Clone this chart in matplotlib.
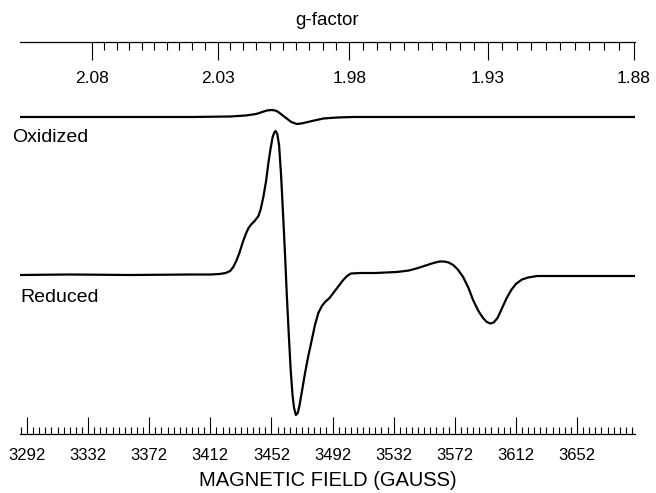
import numpy as np
import matplotlib.pyplot as plt

plt.rcParams['font.family'] = ['Liberation Sans', 'DejaVu Sans']

# EPR spectra, field in gauss, intensity in arbitrary units (baseline = 0)
Field_Red = [3287, 3320, 3360, 3400, 3412, 3418, 3422, 3425, 3427, 3429, 3431, 3433.5, 3435.5,
             3437, 3439, 3441, 3443.5, 3445, 3446.7, 3448.5, 3450, 3451.5, 3452.8, 3454, 3454.8,
             3455.8, 3457, 3458.3, 3459.8, 3461, 3462, 3463.3, 3464.6, 3465.8, 3466.8, 3468,
             3469.2, 3470.3, 3472, 3474, 3476, 3478.4, 3480.5, 3482.7, 3485, 3487.1, 3490,
             3492.5, 3496, 3499, 3501.5, 3504, 3510, 3520, 3534, 3542, 3548, 3553, 3558, 3562,
             3565, 3568, 3571, 3574, 3577.5, 3581, 3584, 3587.5, 3590.5, 3593, 3595.3, 3597.5,
             3600, 3603, 3606, 3609, 3612, 3616, 3620, 3626, 3640, 3660, 3690]
Int_Red = [0, 0.5, 0, 0.5, 0.5, 1, 2, 4, 8, 14, 22, 34, 42,
           47, 51, 54, 59, 66, 78, 94, 112, 127, 138, 143, 144,
           141, 130, 100, 55, 17, -18, -58, -95, -120, -133, -140,
           -138, -131, -116, -98, -82, -65, -50, -38, -31, -27, -23,
           -18, -11, -5, -1, 1.5, 2, 2, 3, 4.5, 7, 9.5, 12, 13.5,
           13.5, 12.5, 10, 5.5, -2, -13, -25, -36, -43, -47, -48.5, -47.5,
           -43, -33, -23, -15, -9, -4.5, -2.5, -1, -1, -1, -1]

Field_Ox = [3287, 3340, 3400, 3425, 3435, 3442, 3446, 3449, 3452, 3454.5, 3456.5, 3459, 3462,
            3465, 3468.5, 3471.5, 3475, 3480, 3486, 3495, 3505, 3560, 3620, 3690]
Int_Ox = [0, 0, 0, 0.5, 1.5, 3, 5, 6.5, 7, 6.5, 5, 2, -1.5,
          -5, -7, -6.5, -5.3, -3.5, -1.5, -0.5, 0, 0, 0, 0]

Ox_Offset = 158

Field_Major = [3292, 3332, 3372, 3412, 3452, 3492, 3532, 3572, 3612, 3652]
G_Major = [2.08, 2.03, 1.98, 1.93, 1.88]
G_Labels = ['2.08', '2.03', '1.98', '1.93', '1.88']
GB = 6936.0  # g * B (gauss)

fig = plt.figure(figsize=(6.56, 4.93), dpi=100)
ax = fig.add_axes([20 / 656, 1 - 434 / 493, 615 / 656, 392 / 493])

ax.plot(Field_Red, Int_Red, color='black', linewidth=1.6)
ax.plot(Field_Ox, np.array(Int_Ox) + Ox_Offset, color='black', linewidth=1.6)

ax.set_xlim(3287.4, 3690)
ax.set_ylim(-159, 233)

for s in ['left', 'right', 'top']:
    ax.spines[s].set_visible(False)
ax.spines['bottom'].set_linewidth(0.9)
ax.set_yticks([])
ax.set_xticks(Field_Major)
ax.set_xticks(np.arange(3288, 3690, 4), minor=True)
ax.tick_params(axis='x', which='major', direction='in', length=12, width=0.8, pad=10, labelsize=12)
ax.tick_params(axis='x', which='minor', direction='in', length=5, width=0.8)
ax.set_xlabel('MAGNETIC FIELD (GAUSS)', fontsize=14.5, labelpad=6)

sec = ax.secondary_xaxis(1.0, functions=(lambda b: GB / np.asarray(b, dtype=float),
                                         lambda g: GB / np.asarray(g, dtype=float)))
sec.set_alignment('bottom')
sec.spines['bottom'].set_linewidth(0.9)
sec.set_xticks(G_Major)
sec.set_xticklabels(G_Labels)
sec.set_xticks(np.round(np.arange(1.88, 2.0801, 0.005), 3), minor=True)
sec.tick_params(axis='x', which='major', direction='out', length=13, width=0.8, pad=8, labelsize=12.5)
sec.tick_params(axis='x', which='minor', direction='out', length=6, width=0.8)
sec.xaxis.set_label_position('top')
sec.set_xlabel('g-factor', fontsize=13.5, labelpad=12)

fig.text(12 / 656, 1 - 137 / 493, 'Oxidized', fontsize=14, va='center', ha='left')
fig.text(20 / 656, 1 - 297 / 493, 'Reduced', fontsize=14, va='center', ha='left')

fig.savefig('out.png', dpi=100)
